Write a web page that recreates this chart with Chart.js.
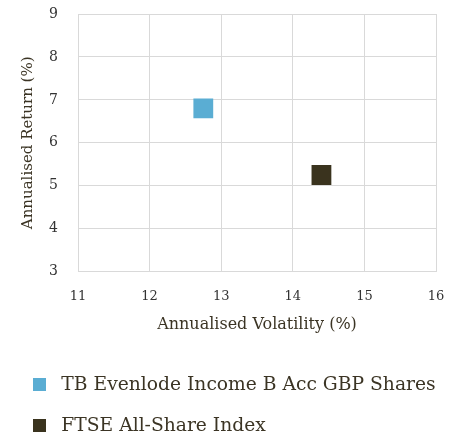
<!DOCTYPE html>
<html>
<head>
<meta charset="utf-8">
<script src="https://cdn.jsdelivr.net/npm/chart.js@4"></script>
<style>
  html, body { margin: 0; padding: 0; background: #fff; overflow: hidden; }
  #wrap { width: 457px; height: 439px; }
</style>
</head>
<body>
<div id="wrap"><canvas id="risk-return"></canvas></div>
<script>
// series names and values (volatility %, return %)
var seriesNames = ['TB Evenlode Income B Acc GBP Shares', 'FTSE All-Share Index'];
var volatility = [12.75, 14.4];
var annualReturn = [6.8, 5.25];
var seriesColors = ['#5aadd3', '#3a331e'];

var xTicks = [11, 12, 13, 14, 15, 16];
var yTicks = [3, 4, 5, 6, 7, 8, 9];

var textColor = '#3b3424';
var serif = "'DejaVu Serif', serif";

// small square used as legend marker
function legendSquare(color) {
    var c = document.createElement('canvas');
    c.width = 13;
    c.height = 13;
    var g = c.getContext('2d');
    g.fillStyle = color;
    g.fillRect(0, 0, 13, 13);
    return c;
}

var datasets = seriesNames.map(function (name, i) {
    return {
        label: name,
        data: [{ x: volatility[i], y: annualReturn[i] }],
        backgroundColor: seriesColors[i],
        borderColor: seriesColors[i],
        borderWidth: 0,
        pointStyle: 'rect',
        pointRadius: 14,
        pointHoverRadius: 14
    };
});

var ctx = document.getElementById('risk-return').getContext('2d');
var chart = new Chart(ctx, {
    type: 'scatter',
    data: { datasets: datasets },
    options: {
        responsive: true,
        maintainAspectRatio: false,
        animation: false,
        layout: { autoPadding: false, padding: { left: 4, right: 21, top: 14, bottom: -6 } },
        plugins: {
            tooltip: { enabled: false },
            legend: {
                position: 'bottom',
                align: 'start',
                labels: {
                    usePointStyle: true,
                    pointStyleWidth: 26,
                    boxHeight: 13,
                    padding: 22,
                    color: textColor,
                    font: { family: serif, size: 18.7 },
                    generateLabels: function (chart) {
                        var items = Chart.defaults.plugins.legend.labels.generateLabels(chart);
                        items.forEach(function (item, i) {
                            item.pointStyle = legendSquare(seriesColors[i]);
                        });
                        return items;
                    }
                }
            }
        },
        scales: {
            x: {
                type: 'linear',
                min: 11,
                max: 16,
                afterBuildTicks: function (axis) {
                    axis.ticks = xTicks.map(function (v) { return { value: v }; });
                },
                afterFit: function (axis) {
                    axis.height = 82;
                    axis.paddingLeft = 10;
                    axis.paddingRight = 10;
                },
                grid: { color: '#d9d9d9', drawTicks: false },
                border: { color: '#d9d9d9' },
                ticks: {
                    color: '#333',
                    padding: 17,
                    font: { family: serif, size: 13 }
                },
                title: {
                    display: true,
                    text: 'Annualised Volatility (%)',
                    color: textColor,
                    font: { family: serif, size: 16 },
                    padding: { top: 1, bottom: 19 }
                }
            },
            y: {
                type: 'linear',
                min: 3,
                max: 9,
                afterBuildTicks: function (axis) {
                    axis.ticks = yTicks.map(function (v) { return { value: v }; });
                },
                afterFit: function (axis) {
                    axis.width = 74;
                    axis.paddingTop = 0;
                    axis.paddingBottom = 0;
                },
                grid: { color: '#d9d9d9', drawTicks: false },
                border: { color: '#d9d9d9' },
                ticks: {
                    color: '#333',
                    padding: 20,
                    font: { family: serif, size: 14 }
                },
                title: {
                    display: true,
                    text: 'Annualised Return (%)',
                    color: textColor,
                    font: { family: serif, size: 15 },
                    padding: { top: 15, bottom: 4 }
                }
            }
        }
    }
});
</script>
</body>
</html>
